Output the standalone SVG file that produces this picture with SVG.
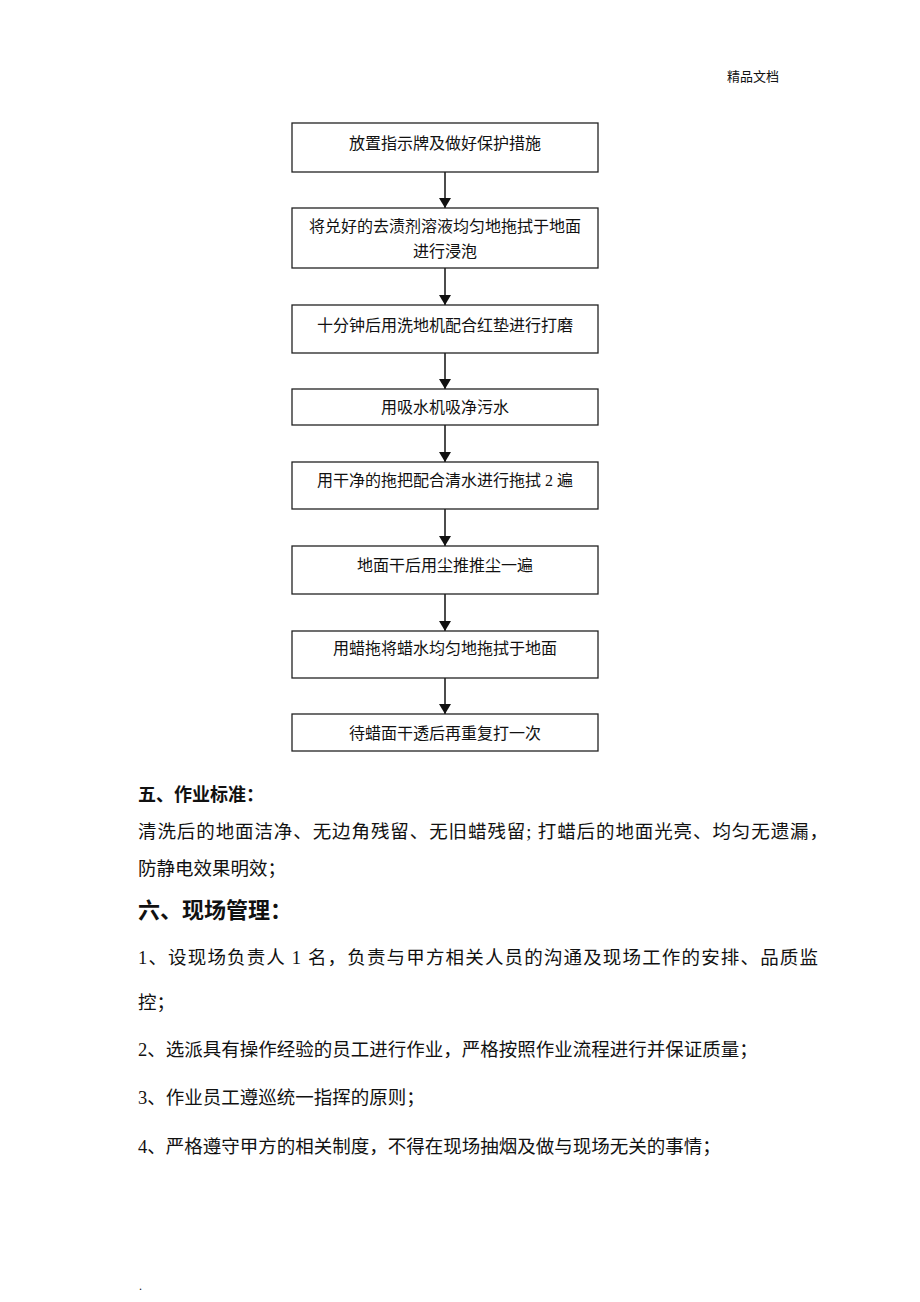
<svg xmlns="http://www.w3.org/2000/svg" width="920" height="1302" viewBox="0 0 920 1302">
<style>
.t{font-family:"Liberation Serif","Noto Sans CJK SC",serif;fill:#111}
.bx{fill:#fff;stroke:#222;stroke-width:1.3}
.lbl{font-size:16px;text-anchor:middle}
.body{font-size:18.5px}
.h5{font-size:18px;font-weight:bold}
.h6{font-size:22px;font-weight:bold}
.ln{stroke:#111;stroke-width:1.5;fill:none}
</style>
<defs>
<marker id="ah" markerWidth="10" markerHeight="12" refX="10" refY="6" orient="auto" markerUnits="userSpaceOnUse">
<path d="M0,0 L10,6 L0,12 Z" fill="#111"/>
</marker>
</defs>
<rect width="920" height="1302" fill="#fff"/>
<text class="t" x="727" y="81" font-size="13">精品文档</text>
<g id="connectors">
<line class="ln" x1="445" y1="172" x2="445" y2="208" marker-end="url(#ah)"/>
<line class="ln" x1="445" y1="268" x2="445" y2="305" marker-end="url(#ah)"/>
<line class="ln" x1="445" y1="353" x2="445" y2="389" marker-end="url(#ah)"/>
<line class="ln" x1="445" y1="425" x2="445" y2="462" marker-end="url(#ah)"/>
<line class="ln" x1="445" y1="509" x2="445" y2="546" marker-end="url(#ah)"/>
<line class="ln" x1="445" y1="594" x2="445" y2="631" marker-end="url(#ah)"/>
<line class="ln" x1="445" y1="678" x2="445" y2="714" marker-end="url(#ah)"/>
</g>
<g id="n1"><rect class="bx" x="292" y="123" width="306" height="49"/><text class="t lbl" x="445" y="149">放置指示牌及做好保护措施</text></g>
<g id="n2"><rect class="bx" x="292" y="208" width="306" height="60"/><text class="t lbl" x="445" y="232">将兑好的去渍剂溶液均匀地拖拭于地面</text><text class="t lbl" x="445" y="257">进行浸泡</text></g>
<g id="n3"><rect class="bx" x="292" y="305" width="306" height="48"/><text class="t lbl" x="445" y="331">十分钟后用洗地机配合红垫进行打磨</text></g>
<g id="n4"><rect class="bx" x="292" y="389" width="306" height="36"/><text class="t lbl" x="445" y="413">用吸水机吸净污水</text></g>
<g id="n5"><rect class="bx" x="292" y="462" width="306" height="47"/><text class="t lbl" x="445" y="486">用干净的拖把配合清水进行拖拭 2 遍</text></g>
<g id="n6"><rect class="bx" x="292" y="546" width="306" height="48"/><text class="t lbl" x="445" y="571">地面干后用尘推推尘一遍</text></g>
<g id="n7"><rect class="bx" x="292" y="631" width="306" height="47"/><text class="t lbl" x="445" y="654">用蜡拖将蜡水均匀地拖拭于地面</text></g>
<g id="n8"><rect class="bx" x="292" y="714" width="306" height="37"/><text class="t lbl" x="445" y="739">待蜡面干透后再重复打一次</text></g>
<text class="t h5" x="138" y="801">五、作业标准：</text>
<text class="t body" x="138" y="838" textLength="690" lengthAdjust="spacing">清洗后的地面洁净、无边角残留、无旧蜡残留; 打蜡后的地面光亮、均匀无遗漏，</text>
<text class="t body" x="138" y="875">防静电效果明效；</text>
<text class="t h6" x="138" y="918">六、现场管理：</text>
<text class="t body" x="138" y="964" textLength="680" lengthAdjust="spacing">1、设现场负责人 1 名，负责与甲方相关人员的沟通及现场工作的安排、品质监</text>
<text class="t body" x="138" y="1009">控；</text>
<text class="t body" x="138" y="1056">2、选派具有操作经验的员工进行作业，严格按照作业流程进行并保证质量；</text>
<text class="t body" x="138" y="1104">3、作业员工遵巡统一指挥的原则；</text>
<text class="t body" x="138" y="1153">4、严格遵守甲方的相关制度，不得在现场抽烟及做与现场无关的事情；</text>
<text class="t" x="139" y="1290" font-size="12">.</text>
</svg>
